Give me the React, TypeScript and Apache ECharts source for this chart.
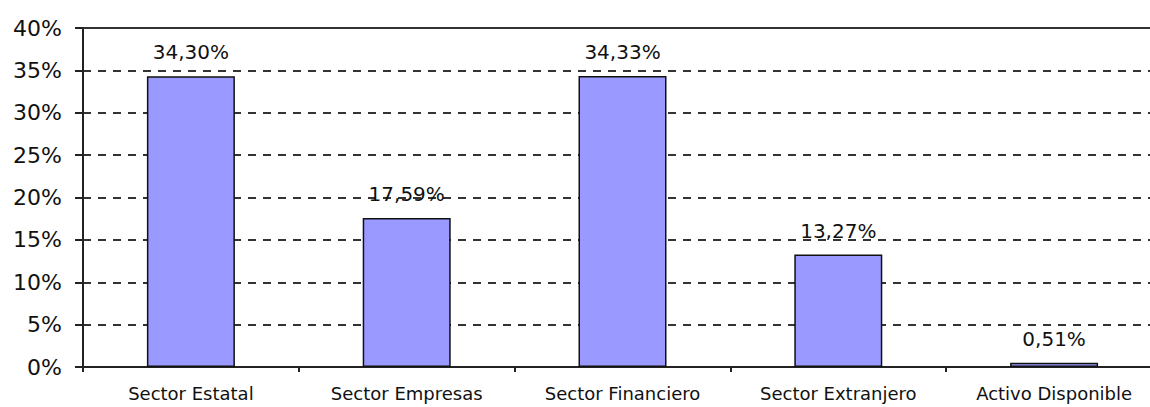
import React, { useEffect, useRef } from "react";
import * as echarts from "echarts";

const categories = [
  "Sector Estatal",
  "Sector Empresas",
  "Sector Financiero",
  "Sector Extranjero",
  "Activo Disponible",
];
const values = [34.3, 17.59, 34.33, 13.27, 0.51];
const yTicks = [0, 5, 10, 15, 20, 25, 30, 35, 40];

export default function App() {
  const ref = useRef<HTMLDivElement>(null);
  useEffect(() => {
    if (!ref.current) return;
    const chart = echarts.init(ref.current, undefined, { renderer: "svg" });
    const font = "DejaVu Sans";
    chart.setOption({
      animation: false,
      backgroundColor: "#ffffff",
      grid: { left: 83, top: 28, width: 1079, height: 339 },
      xAxis: [
        {
          type: "category",
          data: categories,
          position: "bottom",
          axisLine: { show: true, lineStyle: { color: "#222", width: 2 } },
          axisTick: { show: true, length: 5, lineStyle: { color: "#222", width: 2 } },
          axisLabel: { color: "#111", fontFamily: font, fontSize: 18, margin: 17 },
          splitLine: { show: false },
        },
        {
          type: "category",
          data: categories,
          position: "top",
          axisLine: { show: true, lineStyle: { color: "#333", width: 2 } },
          axisTick: { show: false },
          axisLabel: { show: false },
          splitLine: { show: false },
        },
      ],
      yAxis: {
        type: "value",
        min: yTicks[0],
        max: yTicks[yTicks.length - 1],
        interval: 5,
        axisLine: { show: true, lineStyle: { color: "#222", width: 2 } },
        axisTick: { show: true, length: 8, lineStyle: { color: "#222", width: 2 } },
        axisLabel: {
          color: "#111",
          fontFamily: font,
          fontSize: 22,
          margin: 21,
          formatter: (v: number) => `${v}%`,
        },
        splitLine: {
          show: true,
          lineStyle: { color: "#333", width: 2, type: [8, 7] },
        },
      },
      series: [
        {
          type: "bar",
          data: values,
          barWidth: 88,
          itemStyle: { color: "#9999ff", borderColor: "#111", borderWidth: 1.5 },
          label: {
            show: true,
            position: "top",
            distance: 14,
            color: "#111",
            fontFamily: font,
            fontSize: 20,
            formatter: (p: any) => `${p.value.toFixed(2).replace(".", ",")}%`,
          },
        },
      ],
    });
    return () => chart.dispose();
  }, []);
  return (
    <div
      style={{
        position: "fixed",
        left: 0,
        top: 0,
        width: 1150,
        height: 407,
        overflow: "hidden",
        background: "#fff",
      }}
    >
      <div ref={ref} style={{ width: 1170, height: 407 }} />
    </div>
  );
}
